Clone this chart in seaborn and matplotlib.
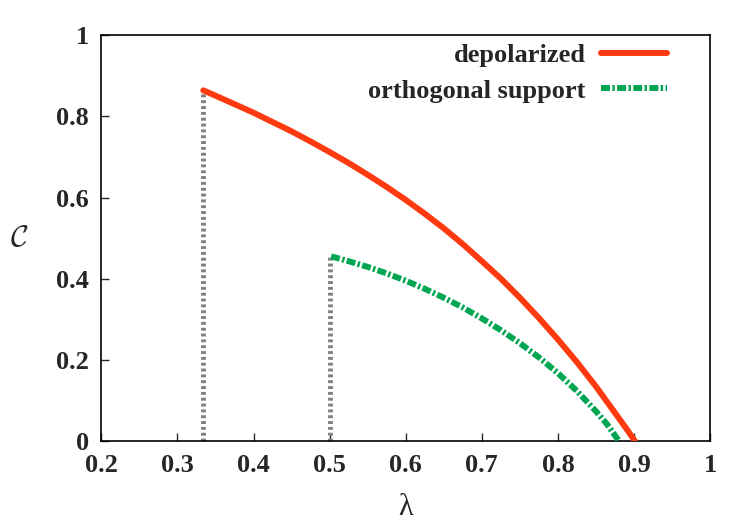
import pandas as pd
import seaborn as sns
import matplotlib.pyplot as plt

# values
lam_depol = [0.334, 0.35, 0.375, 0.40, 0.425, 0.45, 0.475, 0.50, 0.525, 0.55,
             0.575, 0.60, 0.625, 0.65, 0.675, 0.70, 0.725, 0.75, 0.775, 0.80,
             0.825, 0.85, 0.875, 0.89, 0.901]
c_depol = [0.864, 0.851, 0.830, 0.809, 0.786, 0.763, 0.738, 0.712, 0.685, 0.656,
           0.626, 0.594, 0.560, 0.524, 0.485, 0.443, 0.400, 0.353, 0.303, 0.250,
           0.194, 0.134, 0.069, 0.030, 0.0]

lam_orth = [0.502, 0.525, 0.55, 0.575, 0.60, 0.625, 0.65, 0.675, 0.70, 0.725,
            0.75, 0.775, 0.80, 0.825, 0.85, 0.865, 0.88]
c_orth = [0.455, 0.443, 0.429, 0.413, 0.395, 0.375, 0.353, 0.329, 0.302, 0.273,
          0.241, 0.206, 0.167, 0.123, 0.073, 0.040, 0.0]

thresholds = [1 / 3, 0.5]
threshold_tops = [0.864, 0.455]

xticks = [0.2, 0.3, 0.4, 0.5, 0.6, 0.7, 0.8, 0.9, 1]
yticks = [0, 0.2, 0.4, 0.6, 0.8, 1]
xtick_labels = ["0.2", "0.3", "0.4", "0.5", "0.6", "0.7", "0.8", "0.9", "1"]
ytick_labels = ["0", "0.2", "0.4", "0.6", "0.8", "1"]


def main():
    sns.set_style("ticks")
    plt.rcParams["font.family"] = ["Liberation Serif", "DejaVu Serif"]
    plt.rcParams["mathtext.fontset"] = "cm"

    depol = pd.DataFrame({"lam": lam_depol, "C": c_depol})
    orth = pd.DataFrame({"lam": lam_orth, "C": c_orth})

    fig = plt.figure(figsize=(7.5, 5.25), dpi=100)
    ax = fig.add_axes([0.135, 0.16, 0.812, 0.773])

    for x, top in zip(thresholds, threshold_tops):
        ax.plot([x, x], [0, top], color="#808080", lw=3.5, ls=(0, (0.6, 0.6)), zorder=1)

    sns.lineplot(data=depol, x="lam", y="C", ax=ax, color="#ff3a10", lw=4.3,
                 label="depolarized", zorder=3)
    sns.lineplot(data=orth, x="lam", y="C", ax=ax, color="#00a651", lw=4.3,
                 ls=(0, (1.5, 0.4, 0.4, 0.4)), label="orthogonal support", zorder=3)

    ax.set_xlim(0.2, 1)
    ax.set_ylim(0, 1)
    ax.set_xticks(xticks)
    ax.set_xticklabels(xtick_labels)
    ax.set_yticks(yticks)
    ax.set_yticklabels(ytick_labels)
    ax.tick_params(direction="in", length=6, width=1, labelsize=19, pad=9)
    for lab in ax.get_xticklabels() + ax.get_yticklabels():
        lab.set_fontweight("bold")
    for sp in ax.spines.values():
        sp.set_visible(True)
        sp.set_linewidth(1.2)
        sp.set_color("black")

    ax.set_xlabel("λ", fontsize=22, labelpad=12)
    ax.set_ylabel(r"$\mathcal{C}$", fontsize=22, rotation=0, va="center")
    ax.yaxis.set_label_coords(-0.135, 0.5)

    ax.legend(loc="upper right", bbox_to_anchor=(0.934, 0.985), frameon=False,
              markerfirst=False, prop={"weight": "bold", "size": 19},
              handlelength=2.5, borderaxespad=0, borderpad=0.1,
              labelspacing=0.45, handletextpad=0.6)

    plt.savefig("out.png", dpi=100)


if __name__ == '__main__':
    main()
